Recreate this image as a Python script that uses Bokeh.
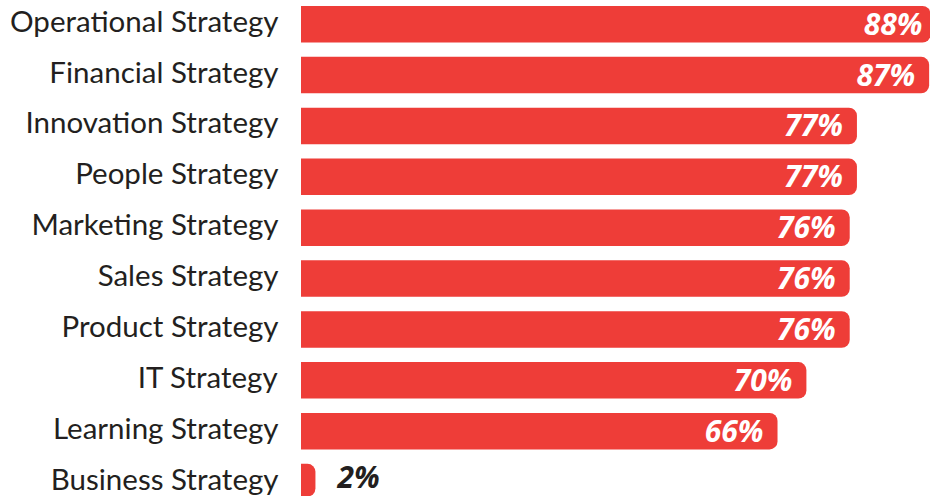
from bokeh.plotting import figure
from bokeh.models import ColumnDataSource, Range1d
from bokeh.core.properties import value
from bokeh.embed import file_html
from bokeh.resources import INLINE

categories = ["Operational Strategy", "Financial Strategy", "Innovation Strategy",
              "People Strategy", "Marketing Strategy", "Sales Strategy",
              "Product Strategy", "IT Strategy", "Learning Strategy", "Business Strategy"]
values = [88, 87, 77, 77, 76, 76, 76, 70, 66, 2]
value_labels = [f"{v}%" for v in values]

RED = "#EE3D38"
DARK = "#231F20"

rows = list(range(len(categories)))
src = ColumnDataSource(dict(y=rows, v=values, cat=categories, lab=value_labels))

W, H = 930, 496
px_per = 7.22
left_px = 300.5
x_start = -left_px / px_per
x_end = x_start + W / px_per
pitch = 50.87
c0 = 23.75
y_top = (0 - c0) / pitch
y_bot = (H - c0) / pitch

p = figure(width=W, height=H, output_backend="svg", toolbar_location=None,
           x_range=Range1d(x_start, x_end), y_range=Range1d(y_bot, y_top),
           min_border=0, outline_line_color=None)
p.axis.visible = False
p.grid.visible = False
p.background_fill_color = "white"
p.border_fill_color = "white"

p.hbar(y="y", left=0, right="v", height=36.5 / pitch, source=src, fill_color=RED,
       line_color=None, border_radius=(0, 8, 8, 0))

p.text(x=0, y="y", text="cat", source=src, x_offset=-22.5, y_offset=-4, text_align="right",
       text_baseline="middle", text_font=value("Lato"), text_font_size="29.5px",
       text_color=DARK)

big = ColumnDataSource(dict(y=rows[:-1], v=values[:-1], lab=value_labels[:-1]))
p.text(x="v", y="y", text="lab", source=big, x_offset=-14, y_offset=-1, text_align="right",
       text_baseline="middle", text_font=value("Open Sans"), text_font_size="30px",
       text_font_style="bold italic", text_color="white")

small = ColumnDataSource(dict(y=rows[-1:], v=values[-1:], lab=value_labels[-1:]))
p.text(x="v", y="y", text="lab", source=small, x_offset=22, y_offset=-6, text_align="left",
       text_baseline="middle", text_font=value("Open Sans"), text_font_size="30px",
       text_font_style="bold italic", text_color=DARK)

open("out.html", "w").write(file_html(p, INLINE))
